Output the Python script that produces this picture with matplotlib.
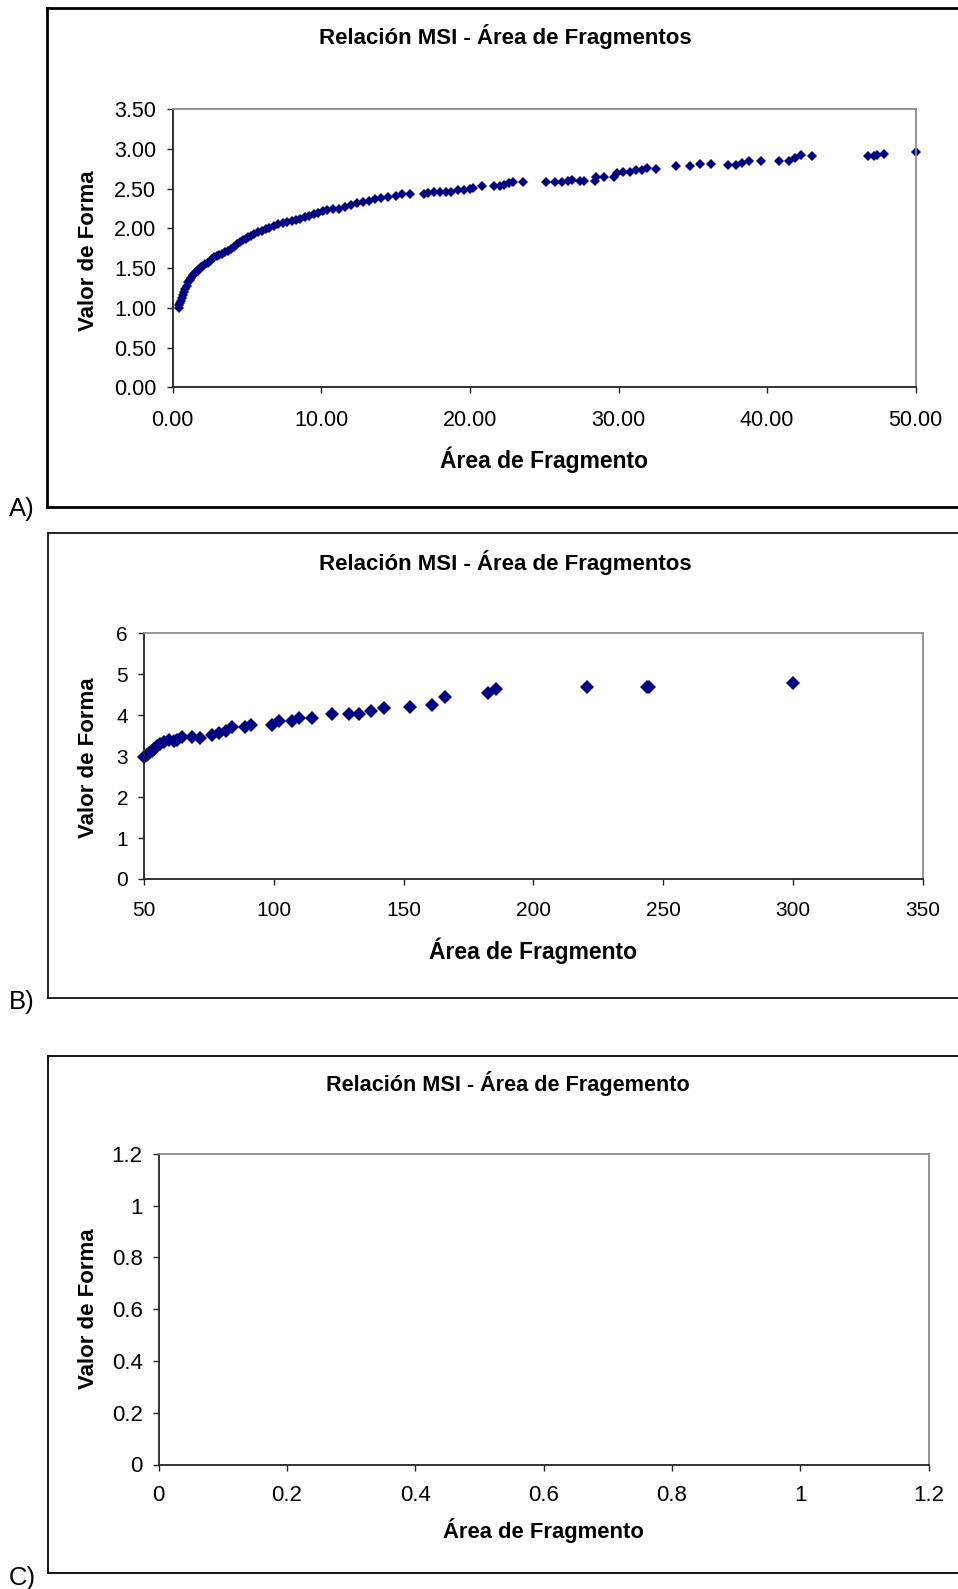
import matplotlib
matplotlib.use("Agg")
import matplotlib.pyplot as plt
from matplotlib.lines import Line2D
from matplotlib.ticker import FixedLocator, FuncFormatter

plt.rcParams['font.family'] = ['Liberation Sans', 'DejaVu Sans']

# ---------------- data ----------------
area_a = [0.40, 0.45, 0.50, 0.55, 0.60, 0.68, 0.76, 0.85, 0.95, 1.05, 1.15, 1.25,
          1.35, 1.45, 1.55, 1.68, 1.80, 1.92, 2.05, 2.20, 2.35, 2.50, 2.65, 2.80,
          2.95, 3.10, 3.30, 3.50, 3.70, 3.90, 4.10, 4.30, 4.50, 4.70, 4.90, 5.10,
          5.30, 5.50, 5.75, 6.00, 6.25, 6.50, 6.80, 7.10, 7.40, 7.70, 8.00, 8.30,
          8.60, 8.90, 9.20, 9.50, 9.80, 10.10, 10.40, 10.80, 11.20, 11.60, 12.00,
          12.40, 12.80, 13.20, 13.60, 14.00, 14.50, 15.00, 15.40, 16.00, 16.90,
          17.20, 17.60, 18.00, 18.40, 18.70, 19.20, 19.60, 20.00, 20.20, 20.80,
          21.60, 22.00, 22.30, 22.60, 22.90, 23.60, 25.10, 25.70, 26.20, 26.60,
          26.90, 27.40, 27.70, 28.40, 28.50, 29.00, 29.70, 29.90, 30.30, 30.80,
          31.20, 31.60, 31.90, 32.50, 33.90, 34.80, 35.50, 36.20, 37.40, 37.90,
          38.30, 38.80, 39.60, 40.80, 41.50, 41.90, 42.30, 43.00, 46.80, 47.20,
          47.40, 47.90, 50.00]
msi_a = [1.00, 1.03, 1.06, 1.09, 1.12, 1.16, 1.20, 1.24, 1.28, 1.32, 1.35, 1.38,
         1.41, 1.43, 1.45, 1.47, 1.49, 1.51, 1.53, 1.55, 1.57, 1.59, 1.62, 1.64,
         1.65, 1.67, 1.68, 1.70, 1.72, 1.74, 1.77, 1.80, 1.83, 1.85, 1.87, 1.89,
         1.91, 1.93, 1.95, 1.97, 1.99, 2.01, 2.03, 2.05, 2.07, 2.08, 2.09, 2.11,
         2.12, 2.14, 2.16, 2.18, 2.20, 2.22, 2.23, 2.24, 2.25, 2.27, 2.30,
         2.32, 2.33, 2.34, 2.37, 2.38, 2.40, 2.41, 2.43, 2.43, 2.43,
         2.44, 2.46, 2.46, 2.46, 2.46, 2.49, 2.49, 2.50, 2.51, 2.53,
         2.53, 2.54, 2.55, 2.57, 2.58, 2.58, 2.58, 2.58, 2.59, 2.60,
         2.61, 2.60, 2.60, 2.60, 2.65, 2.65, 2.65, 2.70, 2.71, 2.71,
         2.74, 2.74, 2.76, 2.75, 2.78, 2.79, 2.81, 2.81, 2.80, 2.80,
         2.83, 2.85, 2.85, 2.85, 2.85, 2.89, 2.92, 2.91, 2.91, 2.91,
         2.92, 2.94, 2.96]

area_b = [50.0, 51.0, 52.0, 53.0, 54.0, 55.0, 56.0, 57.7, 59.6, 61.5, 62.8, 64.8,
          68.6, 71.6, 76.3, 78.9, 81.4, 84.0, 89.1, 91.3, 99.4, 101.9, 107.0,
          109.6, 114.8, 122.5, 128.9, 132.7, 137.5, 142.6, 152.3, 160.9, 166.0,
          182.7, 185.7, 220.8, 243.6, 244.6, 300.0]
msi_b = [2.98, 3.02, 3.07, 3.13, 3.18, 3.24, 3.29, 3.35, 3.39, 3.37, 3.40, 3.47,
         3.47, 3.45, 3.51, 3.56, 3.62, 3.71, 3.70, 3.76, 3.76, 3.86, 3.86,
         3.92, 3.94, 4.04, 4.04, 4.04, 4.11, 4.17, 4.19, 4.25, 4.44,
         4.55, 4.64, 4.68, 4.68, 4.68, 4.78]

area_c = []
msi_c = []

xticks_a = [0, 10, 20, 30, 40, 50]
yticks_a = [0, 0.5, 1.0, 1.5, 2.0, 2.5, 3.0, 3.5]
xticks_b = [50, 100, 150, 200, 250, 300, 350]
yticks_b = [0, 1, 2, 3, 4, 5, 6]
xticks_c = [0, 0.2, 0.4, 0.6, 0.8, 1.0, 1.2]
yticks_c = [0, 0.2, 0.4, 0.6, 0.8, 1.0, 1.2]

title_ab = "Relación MSI - Área de Fragmentos"
title_c = "Relación MSI - Área de Fragemento"
xlabel = "Área de Fragmento"
ylabel = "Valor de Forma"
panel_labels = ["A)", "B)", "C)"]

# ---------------- layout ----------------
W, H = 958, 1589
fig = plt.figure(figsize=(W / 100, H / 100), dpi=100)
fig.patch.set_facecolor('white')

def fx(x):
    return x / W

def fy(y):
    return 1 - y / H

def make_axes(l, t, r, b):
    return fig.add_axes([fx(l), fy(b), (r - l) / W, (b - t) / H])

NAVY = '#000080'
DARK = '#222222'
GRAY = '#8c8c8c'

def style(ax, xt, yt, xlim, ylim, fmt, xpad, ypad, lsize):
    ax.set_xlim(*xlim)
    ax.set_ylim(*ylim)
    ax.xaxis.set_major_locator(FixedLocator(xt))
    ax.yaxis.set_major_locator(FixedLocator(yt))
    ax.xaxis.set_major_formatter(FuncFormatter(fmt))
    ax.yaxis.set_major_formatter(FuncFormatter(fmt))
    for s in ['top', 'right']:
        ax.spines[s].set_color(GRAY)
        ax.spines[s].set_linewidth(1.3)
    for s in ['left', 'bottom']:
        ax.spines[s].set_color(DARK)
        ax.spines[s].set_linewidth(1.3)
    ax.tick_params(axis='both', direction='out', length=4.5, width=1.0,
                   color=DARK, labelsize=lsize, labelcolor='black')
    ax.tick_params(axis='x', pad=xpad)
    ax.tick_params(axis='y', pad=ypad)
    ax.set_facecolor('white')

fmt2 = lambda v, p: f"{v:.2f}"
fmti = lambda v, p: f"{v:.0f}"
fmtg = lambda v, p: f"{v:g}"

# Panel A
axA = make_axes(172.7, 109.3, 915.7, 387.3)
axA.plot(area_a, msi_a, linestyle='none', marker='D', markersize=5.4,
         color=NAVY, markeredgewidth=0, clip_on=False)
style(axA, xticks_a, yticks_a, (0, 50), (0, 3.5), fmt2, 11.5, 7.5, 15.5)

# Panel B
axB = make_axes(144.0, 633.3, 922.7, 879.0)
axB.plot(area_b, msi_b, linestyle='none', marker='D', markersize=7.0,
         color=NAVY, markeredgewidth=0, clip_on=False)
style(axB, xticks_b, yticks_b, (50, 350), (0, 6), fmti, 11.5, 7.0, 15)

# Panel C (empty)
axC = make_axes(158.5, 1153.7, 928.5, 1464.5)
axC.plot(area_c, msi_c, linestyle='none', marker='D', color=NAVY)
style(axC, xticks_c, yticks_c, (0, 1.2), (0, 1.2), fmtg, 10.5, 7.0, 16)

# Titles and axis labels
fig.text(fx(505), fy(44), title_ab, ha='center', va='baseline',
         fontsize=16, fontweight='bold')
fig.text(fx(505), fy(570), title_ab, ha='center', va='baseline',
         fontsize=16, fontweight='bold')
fig.text(fx(508), fy(1091), title_c, ha='center', va='baseline',
         fontsize=15.6, fontweight='bold')

fig.text(fx(544.2), fy(468), xlabel, ha='center', va='baseline',
         fontsize=16.5, fontweight='bold')
fig.text(fx(533.3), fy(959), xlabel, ha='center', va='baseline',
         fontsize=16.5, fontweight='bold')
fig.text(fx(543.5), fy(1538), xlabel, ha='center', va='baseline',
         fontsize=15.8, fontweight='bold')

for yc in [251, 758, 1309]:
    fig.text(fx(88), fy(yc), ylabel, ha='center', va='center', rotation=90,
             fontsize=16, fontweight='bold')

# Panel letters
for lab, yb in zip(panel_labels, [516, 1009, 1585]):
    fig.text(fx(9), fy(yb), lab, ha='left', va='baseline', fontsize=18.5)

# Outer frames (right side runs off the canvas)
def frame(t, b, l, lw):
    kw = dict(color='black', linewidth=lw, transform=fig.transFigure)
    fig.add_artist(Line2D([fx(l), fx(W + 5)], [fy(t), fy(t)], **kw))
    fig.add_artist(Line2D([fx(l), fx(W + 5)], [fy(b), fy(b)], **kw))
    fig.add_artist(Line2D([fx(l), fx(l)], [fy(t), fy(b)], **kw))

frame(7.5, 506.5, 47, 2.0)
frame(533, 998, 48, 1.2)
frame(1056, 1573, 47.5, 1.3)

fig.savefig("out.png", dpi=100, facecolor='white')
